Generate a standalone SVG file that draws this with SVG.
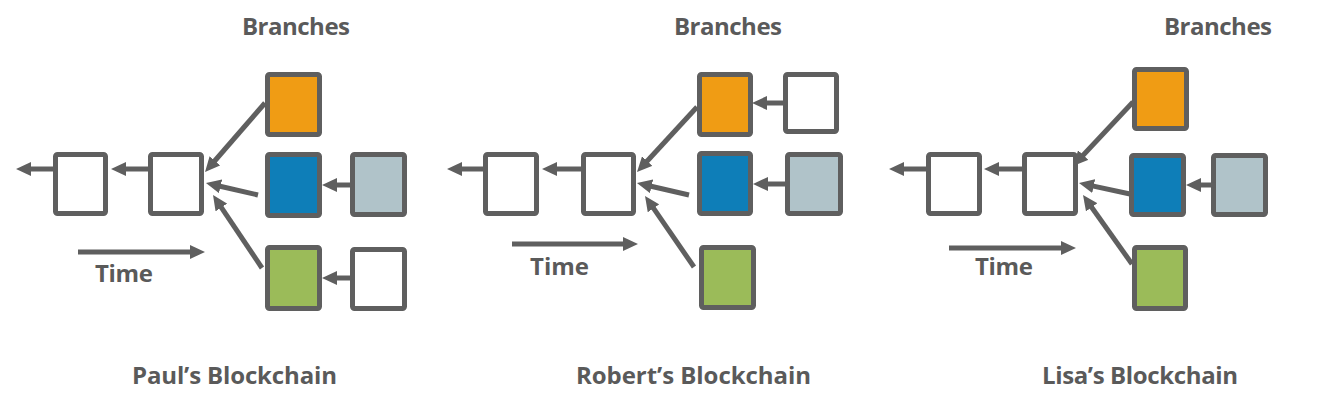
<svg xmlns="http://www.w3.org/2000/svg" width="1325" height="412" viewBox="0 0 1325 412">
<defs>
<marker id="ah" viewBox="0 0 15 14" markerWidth="15" markerHeight="14" refX="5" refY="7" orient="auto" markerUnits="userSpaceOnUse">
<path d="M0,0 L15,7 L0,14 z" fill="#5f5f5f"/>
</marker>
</defs>
<style>
.b{stroke:#5f5f5f;stroke-width:5;fill:#ffffff}
.o{fill:#f09c14}
.bl{fill:#0e7eb8}
.lt{fill:#b0c3c9}
.g{fill:#9bbb59}
.c line{stroke:#5f5f5f;stroke-width:5;marker-end:url(#ah)}
text{font-family:"Open Sans","Liberation Sans",sans-serif;font-weight:bold;font-size:24px;fill:#5a5a5a}
</style>
<rect width="1325" height="412" fill="#ffffff"/>

<g id="paul">
<g id="p-a"><rect class="b" x="55.5" y="154.5" width="50" height="59" rx="2"/></g>
<g id="p-b"><rect class="b" x="150.5" y="154.5" width="51" height="59" rx="2"/></g>
<g id="p-orange"><rect class="b o" x="267.5" y="74.5" width="52" height="60" rx="2"/></g>
<g id="p-blue"><rect class="b bl" x="267.5" y="154.5" width="52" height="61" rx="2"/></g>
<g id="p-light"><rect class="b lt" x="352.5" y="154.5" width="52" height="60" rx="2"/></g>
<g id="p-green"><rect class="b g" x="267.5" y="247.5" width="52" height="61" rx="2"/></g>
<g id="p-white"><rect class="b" x="352.5" y="249.5" width="52" height="59" rx="2"/></g>
<text x="242" y="35" textLength="108">Branches</text>
<text x="95" y="282" textLength="58">Time</text>
<text x="132" y="384" textLength="205">Paul’s Blockchain</text>
</g>

<g id="robert">
<g id="r-a"><rect class="b" x="485.5" y="154.5" width="51" height="59" rx="2"/></g>
<g id="r-b"><rect class="b" x="583.5" y="154.5" width="50" height="59" rx="2"/></g>
<g id="r-orange"><rect class="b o" x="699.5" y="74.5" width="51" height="60" rx="2"/></g>
<g id="r-white"><rect class="b" x="785.5" y="74.5" width="51" height="57" rx="2"/></g>
<g id="r-blue"><rect class="b bl" x="699.5" y="153.5" width="51" height="60" rx="2"/></g>
<g id="r-light"><rect class="b lt" x="787.5" y="154.5" width="53" height="59" rx="2"/></g>
<g id="r-green"><rect class="b g" x="701.5" y="247.5" width="52" height="60" rx="2"/></g>
<text x="674" y="35" textLength="108">Branches</text>
<text x="530" y="275" textLength="59">Time</text>
<text x="576" y="384" textLength="235">Robert’s Blockchain</text>
</g>

<g id="lisa">
<g id="l-a"><rect class="b" x="928.5" y="154.5" width="51" height="59" rx="2"/></g>
<g id="l-b"><rect class="b" x="1024.5" y="154.5" width="51" height="59" rx="2"/></g>
<g id="l-orange"><rect class="b o" x="1134.5" y="69.5" width="52" height="59" rx="2"/></g>
<g id="l-blue"><rect class="b bl" x="1131.5" y="155.5" width="52" height="59" rx="2"/></g>
<g id="l-light"><rect class="b lt" x="1213.5" y="155.5" width="52" height="59" rx="2"/></g>
<g id="l-green"><rect class="b g" x="1134.5" y="247.5" width="51" height="61" rx="2"/></g>
<text x="1164" y="35" textLength="108">Branches</text>
<text x="975" y="275" textLength="58">Time</text>
<text x="1042" y="384" textLength="196">Lisa’s Blockchain</text>
</g>

<g id="connectors" class="c">
<line x1="53" y1="169" x2="26" y2="169"/>
<line x1="148" y1="169" x2="121" y2="169"/>
<line x1="265" y1="103" x2="211.6" y2="164.5"/>
<line x1="258" y1="195" x2="215.7" y2="185.2"/>
<line x1="262" y1="268" x2="218.6" y2="203.3"/>
<line x1="350" y1="185" x2="332" y2="185"/>
<line x1="350" y1="278" x2="332" y2="278"/>
<line x1="78" y1="252" x2="195" y2="252"/>

<line x1="483" y1="169" x2="457" y2="169"/>
<line x1="581" y1="169" x2="552" y2="169"/>
<line x1="697" y1="107" x2="643.8" y2="164.7"/>
<line x1="689" y1="195" x2="646.7" y2="185.2"/>
<line x1="694" y1="267" x2="650.7" y2="204.2"/>
<line x1="783" y1="103" x2="762" y2="103"/>
<line x1="785" y1="184" x2="763" y2="184"/>
<line x1="512" y1="244" x2="628" y2="244"/>

<line x1="926" y1="169" x2="899" y2="169"/>
<line x1="1022" y1="169" x2="994" y2="169"/>
<line x1="1133" y1="102" x2="1079.8" y2="158.7"/>
<line x1="1130" y1="194" x2="1088.8" y2="185.1"/>
<line x1="1132" y1="264" x2="1088.8" y2="203.2"/>
<line x1="1216" y1="185" x2="1196" y2="185"/>
<line x1="949" y1="248" x2="1066" y2="248"/>
</g>
</svg>
